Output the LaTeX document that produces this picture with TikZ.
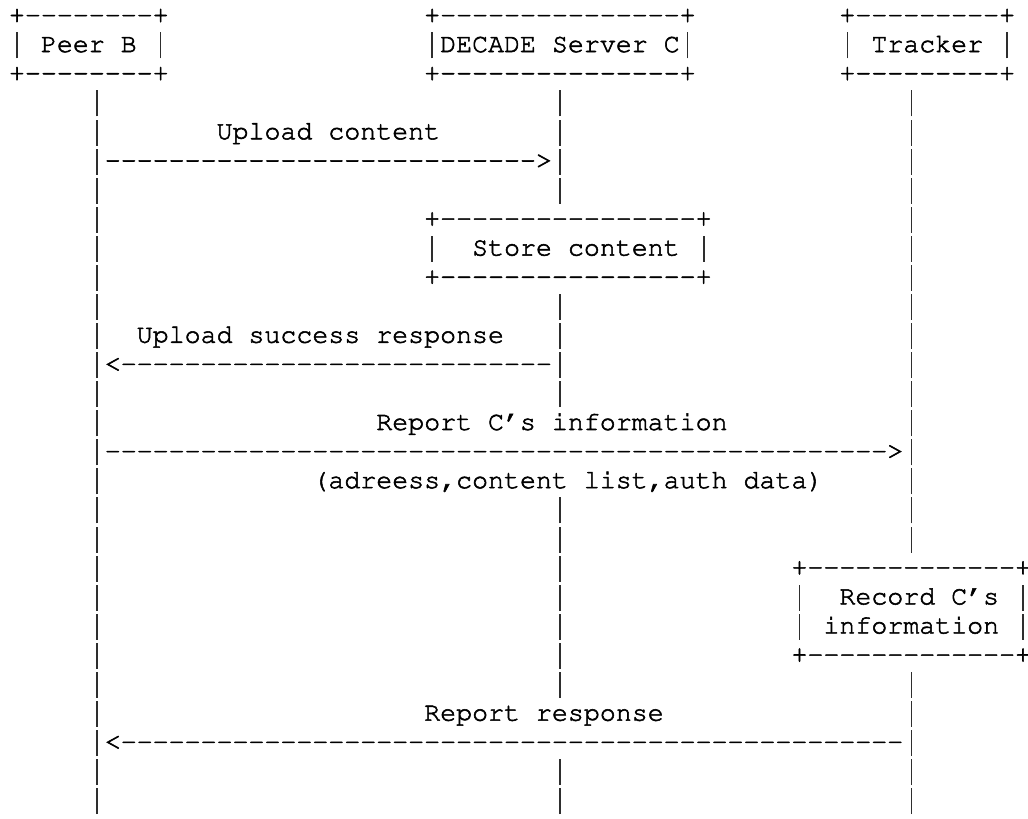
\documentclass[tikz,border=0pt]{standalone}
\usepackage[T1]{fontenc}

% a row of hyphens that can never merge into dashes
\ExplSyntaxOn
\NewDocumentCommand\dashes{m}{\prg_replicate:nn{#1}{-\kern0pt}}
\ExplSyntaxOff

% a full-height vertical stroke filling one character cell
\newcommand\vb{\makebox[11.976pt]{\textcolor{black!82}{\rule[-4.7pt]{1.2pt}{19.5pt}}}}

% one character cell is 15.97 units wide, one text line 29.07 units high;
% glyphs are filled and lightly stroked for a heavier typewriter look
\newcommand\cellat[4]{\node[glyph] (#1) at ({9+#2*15.97},{23+(#3-1)*29.07})
  {\special{pdf:literal direct 2 Tr 0.4 w}#4\special{pdf:literal direct 0 Tr 0.4 w}};}

\tikzset{
  glyph/.style={anchor=base west, inner sep=0pt, outer sep=0pt, text=black,
    font=\fontfamily{pcr}\fontsize{19.96pt}{21.8pt}\selectfont\frenchspacing},
}

\begin{document}
\begin{tikzpicture}[x=0.75pt, y=-0.75pt]
\fill[white] (0,0) rectangle (1028,818);
\useasboundingbox (0,0) rectangle (1028,818);

% participants
\cellat{peerTop}{0}{1}{+\dashes{8}+}
\cellat{peerMid}{0}{2}{\vb{} Peer B \vb}
\cellat{peerBot}{0}{3}{+\dashes{8}+}
\cellat{srvTop}{26}{1}{+\dashes{15}+}
\cellat{srvMid}{26}{2}{\vb{}DECADE Server C\vb}
\cellat{srvBot}{26}{3}{+\dashes{15}+}
\cellat{trkTop}{52}{1}{+\dashes{9}+}
\cellat{trkMid}{52}{2}{\vb{} Tracker \vb}
\cellat{trkBot}{52}{3}{+\dashes{9}+}

% lifelines
\foreach \r in {4,...,28} {\cellat{peerL\r}{5}{\r}{\vb}}
\foreach \r in {4,5,6,7,11,12,13,14,18,19,20,21,22,23,24,27,28} {\cellat{srvL\r}{34}{\r}{\vb}}
\foreach \r in {4,...,19,24,25,26,27,28} {\cellat{trkL\r}{56}{\r}{\vb}}

% upload
\cellat{upLabel}{13}{5}{Upload content}
\cellat{upArrow}{6}{6}{\dashes{27}>}

% store step on the server
\cellat{storeTop}{26}{8}{+\dashes{16}+}
\cellat{storeL}{26}{9}{\vb}
\cellat{storeText}{29}{9}{Store content}
\cellat{storeR}{43}{9}{\vb}
\cellat{storeBot}{26}{10}{+\dashes{16}+}

% upload reply
\cellat{okLabel}{8}{12}{Upload success response}
\cellat{okArrow}{6}{13}{<\dashes{27}}

% report to the tracker
\cellat{repLabel}{23}{15}{Report C's information}
\cellat{repArrow}{6}{16}{\dashes{49}>}
\cellat{repNote}{19}{17}{(adreess,content list,auth data)}

% record step on the tracker
\cellat{recTop}{49}{20}{+\dashes{13}+}
\cellat{recL}{49}{21}{\vb}
\cellat{recText}{52}{21}{Record C's}
\cellat{recR}{63}{21}{\vb}
\cellat{recMidL}{49}{22}{\vb}
\cellat{recMid}{51}{22}{information}
\cellat{recMidR}{63}{22}{\vb}
\cellat{recBot}{49}{23}{+\dashes{13}+}

% report reply
\cellat{ansLabel}{26}{25}{Report response}
\cellat{ansArrow}{6}{26}{<\dashes{49}}
\end{tikzpicture}
\end{document}
